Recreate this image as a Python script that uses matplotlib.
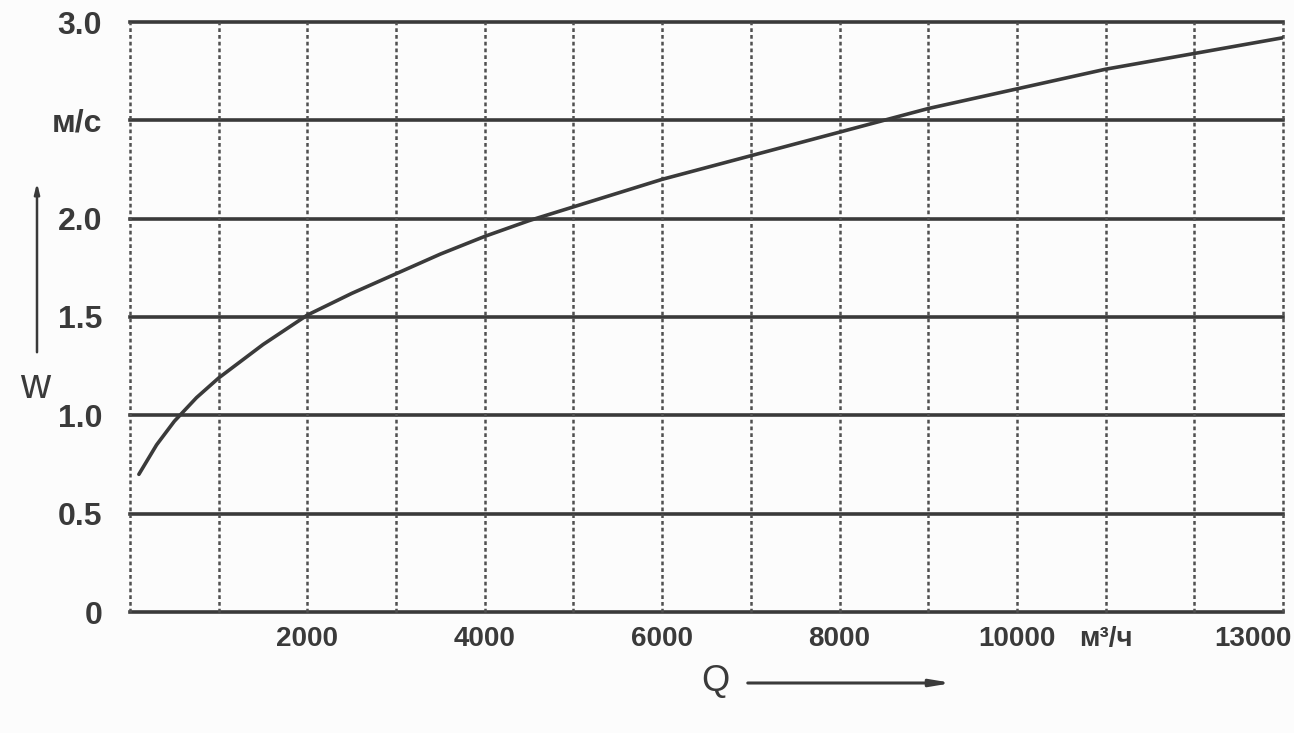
import numpy as np
import matplotlib
matplotlib.use("Agg")
from matplotlib import pyplot as plt
from matplotlib.transforms import ScaledTranslation

# flow rate Q, m3/h  and velocity w, m/s
flow = [100, 300, 500, 750, 1000, 1500, 2000, 2500, 3000, 3500, 4000, 4500,
        5000, 6000, 7000, 8000, 9000, 10000, 11000, 12000, 13000]
speed = [0.70, 0.85, 0.97, 1.09, 1.19, 1.36, 1.51, 1.62, 1.72, 1.82, 1.91, 1.99,
         2.06, 2.20, 2.32, 2.44, 2.56, 2.66, 2.76, 2.84, 2.92]

xticks = list(range(0, 14000, 1000))
xlabels = ['', '', '2000', '', '4000', '', '6000', '', '8000', '',
           '10000', 'м³/ч', '', '13000']
yticks = [0, 0.5, 1.0, 1.5, 2.0, 2.5, 3.0]
ylabels = ['0', '0.5', '1.0', '1.5', '2.0', 'м/с', '3.0']

ink = '#3a3a3a'
fnt = ['Liberation Sans', 'DejaVu Sans']

fig = plt.figure(figsize=(12.94, 7.33), dpi=100)
fig.patch.set_facecolor('#fcfcfc')
ax = fig.add_axes([130/1294, (733-612)/733, (1283-130)/1294, (612-22)/733])
ax.set_facecolor('#fcfcfc')

ax.set_xlim(0, 13000)
ax.set_ylim(0, 3.0)

# grid: horizontal solid, vertical dotted
for y in yticks:
    ax.axhline(y, color=ink, lw=2.6, zorder=1, clip_on=False)
for x in xticks:
    ax.axvline(x, color='#505050', lw=1.8, ls=(0, (1.5, 1.2)), zorder=1, clip_on=False)

ax.plot(flow, speed, color=ink, lw=2.6, zorder=3, solid_capstyle='round')

for s in ax.spines.values():
    s.set_visible(False)

ax.set_xticks(xticks)
ax.set_xticklabels(xlabels, family=fnt, fontsize=20, color=ink, fontweight='bold')
ax.set_yticks(yticks)
ax.set_yticklabels(ylabels, family=fnt, fontsize=23, color=ink, fontweight='bold')
ax.tick_params(axis='x', length=0, pad=10)
ax.tick_params(axis='y', length=0, pad=20)

# last x label sits against the right edge of the sheet
last = ax.get_xticklabels()[-1]
last.set_horizontalalignment('right')
last.set_transform(last.get_transform() + ScaledTranslation(9/100, 0, fig.dpi_scale_trans))

# axis names with arrows
fig.text(35/1294, 1 - 387/733, 'w', family=fnt, fontsize=30, color=ink,
         ha='center', va='center')
ax.annotate('', xy=(37/1294, 1 - 180/733), xytext=(37/1294, 1 - 355/733),
            xycoords='figure fraction',
            arrowprops=dict(arrowstyle='-|>,head_length=0.6,head_width=0.15',
                            color=ink, lw=1.8))
fig.text(715/1294, 1 - 682/733, 'Q', family=fnt, fontsize=26, color=ink,
         ha='center', va='center')
ax.annotate('', xy=(955/1294, 1 - 683/733), xytext=(745/1294, 1 - 683/733),
            xycoords='figure fraction',
            arrowprops=dict(arrowstyle='-|>,head_length=1.2,head_width=0.2',
                            color=ink, lw=2.2))

fig.savefig('out.png', dpi=100, facecolor=fig.get_facecolor())
